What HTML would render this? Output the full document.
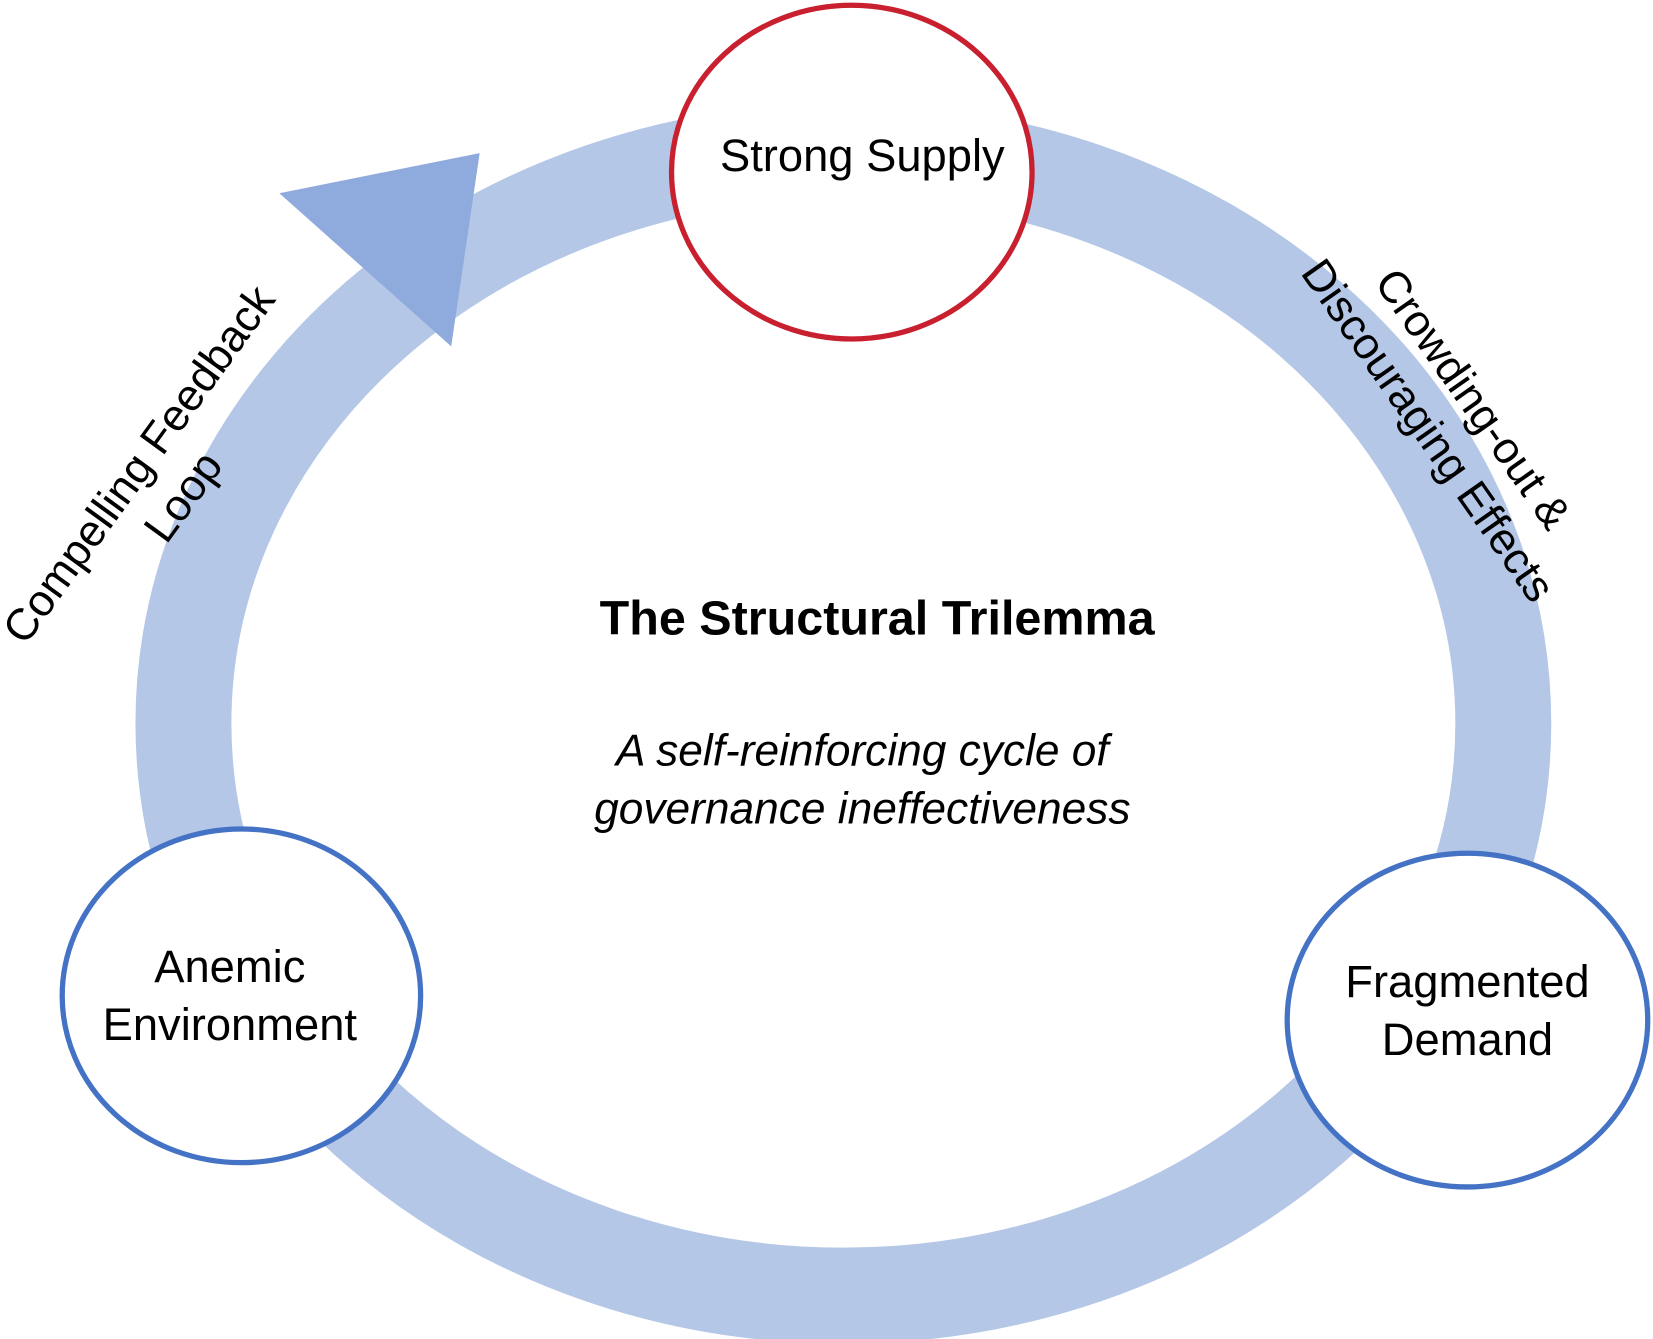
<!DOCTYPE html>
<html><head><meta charset="utf-8"><style>html,body{margin:0;padding:0;background:#fff}svg{display:block}</style></head>
<body>
<svg width="1653" height="1339" viewBox="0 0 1568 1268" preserveAspectRatio="none" xmlns="http://www.w3.org/2000/svg" font-family="Liberation Sans, Arial, sans-serif">
<rect width="1568" height="1268" fill="#fff"/>
<ellipse cx="800" cy="685" rx="626" ry="542" fill="none" stroke="#b4c7e7" stroke-width="91"/>
<polygon points="265,183 455,145 428,328" fill="#8faadc"/>
<ellipse cx="808" cy="163" rx="171" ry="158" fill="#fff" stroke="#c8202f" stroke-width="5"/>
<ellipse cx="229" cy="943" rx="170" ry="158" fill="#fff" stroke="#4472c4" stroke-width="5"/>
<ellipse cx="1392" cy="966" rx="171" ry="158" fill="#fff" stroke="#4472c4" stroke-width="5"/>
<g font-size="43" fill="#000" text-anchor="middle">
<text x="818" y="162">Strong Supply</text>
<text x="218" y="930">Anemic</text>
<text x="218" y="985">Environment</text>
<text x="1392" y="944">Fragmented</text>
<text x="1392" y="999">Demand</text>
</g>
<text x="832" y="601" font-size="46" font-weight="bold" text-anchor="middle">The Structural Trilemma</text>
<g font-size="42" font-style="italic" text-anchor="middle">
<text x="818" y="725">A self-reinforcing cycle of</text>
<text x="818" y="780">governance ineffectiveness</text>
</g>
<g transform="translate(132,440) rotate(-54)" font-size="42" text-anchor="middle" dominant-baseline="central">
<text x="0" y="0">Compelling Feedback</text>
<text x="0" y="52">Loop</text>
</g>
<g transform="translate(1397,378) rotate(55)" font-size="42" text-anchor="middle" dominant-baseline="central">
<text x="0" y="0">Crowding-out &amp;</text>
<text x="0" y="52">Discouraging Effects</text>
</g>
</svg>
</body></html>
